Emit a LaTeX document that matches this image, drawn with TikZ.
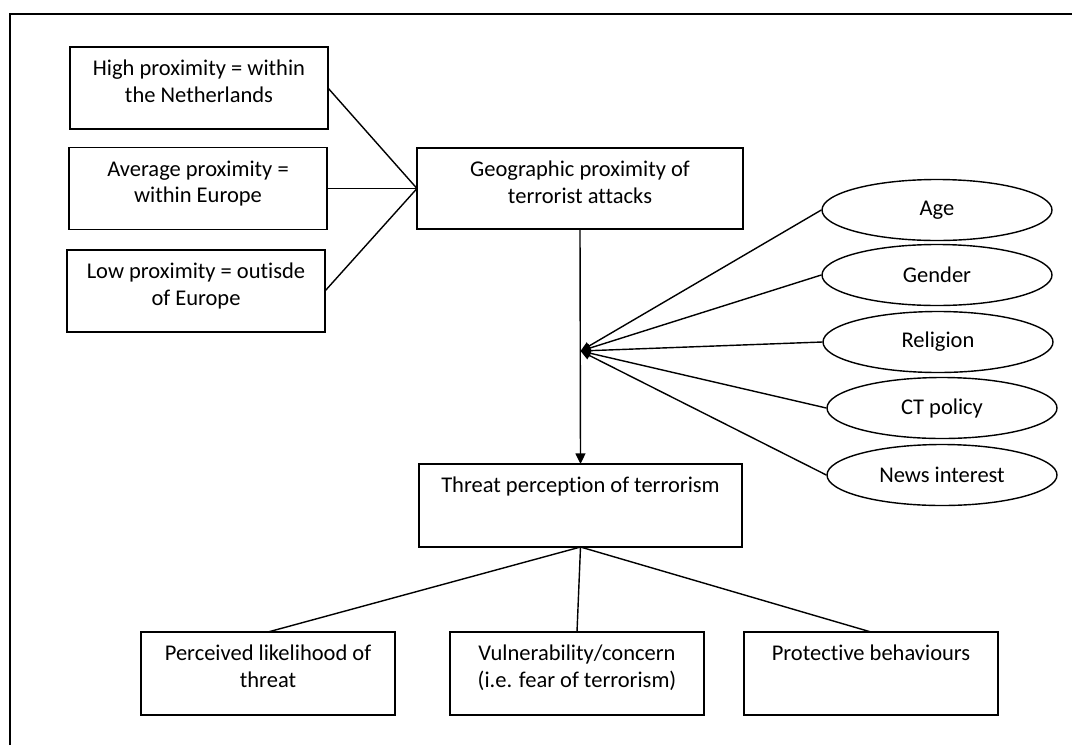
\documentclass[tikz,border=0pt]{standalone}
\usepackage{fontspec}
\setmainfont{Carlito}[Ligatures={NoCommon}]
\usetikzlibrary{arrows.meta,shapes.geometric}

% one drawing unit = one pixel of the layout grid
\newlength{\px}\setlength{\px}{0.025cm}
% box contents: fixed size, text centred and hung from the top edge
\newcommand{\boxtext}[4][10]{\parbox[c][#3\px][t]{#2\px}{\centering\vspace*{#1\px}\strut #4}}

\tikzset{
  x=0.025cm, y=-0.025cm,
  every node/.style={font=\fontsize{16}{19}\selectfont},
  box/.style={draw, line width=1.3pt, inner sep=0pt, outer sep=0pt},
  oval/.style={draw, ellipse, line width=1pt, minimum width=230\px,
               minimum height=61\px, inner sep=0pt},
  link/.style={line width=1pt},
  tip/.style={link, -{Triangle[length=7pt,width=6pt]}},
  bigtip/.style={link, -{Triangle[length=7.5pt,width=7pt]}},
  frame/.style={line width=1.2pt},
}

\begin{document}
\begin{tikzpicture}
  \useasboundingbox (0,0) rectangle (1072,745);
  \draw[frame] (10,745) -- (10,14) -- (1072,14);

  % levels of proximity
  \node[box] (high) at (199,88)    {\boxtext{258}{82}{High proximity = within\\the Netherlands}};
  \node[box] (avg)  at (198,188.5) {\boxtext{258}{82}{Average proximity =\\within Europe}};
  \node[box] (low)  at (196,291)   {\boxtext{258}{82}{Low proximity = outisde\\of Europe}};

  % main constructs
  \node[box] (geo)    at (580,188.5)   {\boxtext{326}{81}{Geographic proximity of\\terrorist attacks}};
  \node[box] (threat) at (580.5,505.5) {\boxtext{323}{83}{Threat perception of terrorism}};

  % moderators
  \node[oval] (age)      at (937,210) {Age};
  \node[oval] (gender)   at (937,275) {Gender};
  \node[oval] (religion) at (938,342) {Religion};
  \node[oval] (ct)       at (942,408) {CT policy};
  \node[oval] (news)     at (942,475) {News interest};

  % dimensions of threat perception
  \node[box] (lik) at (268,673.5) {\boxtext{254}{83}{Perceived likelihood of\\threat}};
  \node[box] (vul) at (577,673.5) {\boxtext{254}{83}{Vulnerability/concern\\(i.e. fear of terrorism)}};
  \node[box] (pro) at (871,673.5) {\boxtext{254}{83}{Protective behaviours}};

  % connectors
  \draw[link] (high.east) -- (geo.west);
  \draw[link] (avg.east)  -- (geo.west);
  \draw[link] (low.east)  -- (geo.west);

  \coordinate (m) at (580.5,351);
  \draw[bigtip] (geo.south) -- (threat.north);
  \foreach \e in {age,gender,religion,ct,news}
    \draw[tip] (\e.west) -- (m);

  \draw[link] (threat.south) -- (lik.north);
  \draw[link] (threat.south) -- (vul.north);
  \draw[link] (threat.south) -- (pro.north);
\end{tikzpicture}
\end{document}
